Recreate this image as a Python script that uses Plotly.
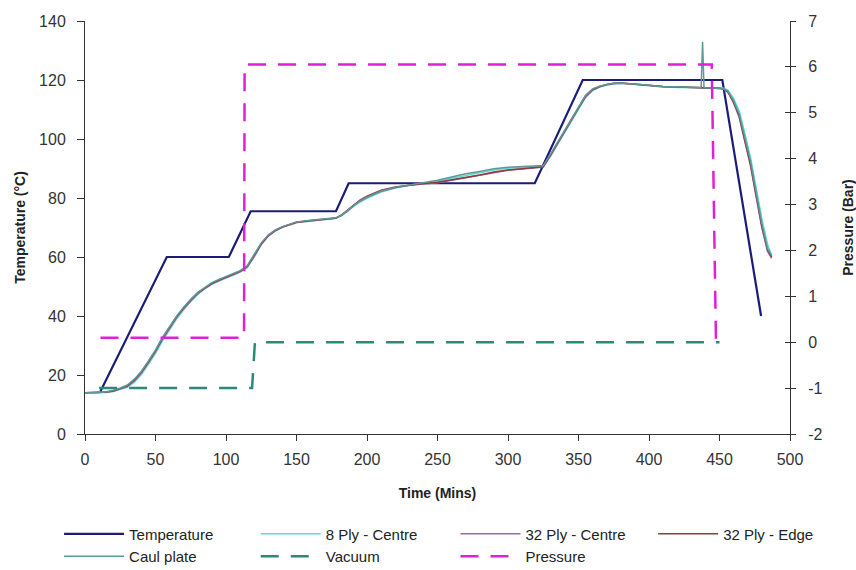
import plotly.graph_objects as go

# ---- data ----
temp_time = [11, 58, 102, 117.5, 178, 187, 319, 353, 452, 479.5]
temp_vals = [14.5, 60, 60, 75.5, 75.5, 85, 85, 120, 120, 40]

meas_time = [0, 10, 15, 20, 25, 30, 35, 40, 45, 50, 55, 60, 65, 70, 75, 80, 85, 90, 95, 100,
             105, 110, 115, 120, 125, 130, 135, 140, 150, 160, 170, 178, 182, 186, 190, 195, 200, 210, 220, 230,
             240, 250, 260, 270, 280, 290, 300, 310, 320, 325, 330, 335, 340, 345, 350, 355, 360, 365, 370, 375,
             380, 390, 400, 410, 420, 430, 440, 450, 453, 456, 460, 464, 468, 472, 476, 480, 484, 487]

ply8_centre = [14.0, 14.0, 14.1, 14.4, 15.0, 15.8, 17.6, 20.2, 23.6, 27.3, 31.6, 35.4, 39.0, 42.1, 44.9, 47.3, 49.2, 50.7, 51.9, 52.9,
               53.8, 54.9, 56.4, 60.0, 64.2, 67.1, 68.9, 70.1, 71.7, 72.3, 72.7, 73.1, 74.0, 75.4, 77.0, 78.6, 79.9, 82.0, 83.4, 84.3,
               85.0, 85.7, 86.7, 87.7, 88.6, 89.5, 90.1, 90.4, 90.5, 90.8, 94.0, 98.0, 102.2, 106.0, 110.2, 114.0, 116.4, 117.6, 118.3, 118.7,
               118.9, 118.5, 118.0, 117.6, 117.5, 117.5, 117.4, 117.3, 117.2, 116.6, 113.8, 109.5, 101.8, 93.8, 83.5, 73.0, 64.5, 60.5]

ply32_centre = [14.0, 14.0, 14.2, 14.5, 15.2, 16.1, 18.0, 20.7, 24.2, 27.9, 32.2, 35.9, 39.5, 42.5, 45.2, 47.6, 49.4, 50.9, 52.0, 53.0,
                53.9, 55.0, 56.6, 60.2, 64.3, 67.1, 68.9, 70.1, 71.7, 72.3, 72.7, 73.1, 74.1, 75.5, 77.2, 78.9, 80.2, 82.3, 83.5, 84.3,
                84.8, 85.2, 86.0, 86.9, 87.7, 88.7, 89.4, 89.8, 90.1, 90.5, 94.2, 98.3, 102.5, 106.3, 110.5, 114.3, 116.6, 117.7, 118.4, 118.8,
                118.9, 118.6, 118.1, 117.7, 117.6, 117.5, 117.3, 117.1, 116.9, 115.8, 112.2, 107.3, 99.0, 90.8, 80.3, 70.0, 62.0, 59.5]

ply32_edge = [14.0, 14.0, 14.2, 14.6, 15.4, 16.3, 18.3, 21.0, 24.5, 28.2, 32.5, 36.2, 39.8, 42.8, 45.5, 47.8, 49.6, 51.1, 52.2, 53.2,
              54.1, 55.2, 56.8, 60.5, 64.5, 67.3, 69.0, 70.2, 71.8, 72.4, 72.8, 73.2, 74.3, 75.8, 77.6, 79.3, 80.6, 82.6, 83.7, 84.4,
              84.9, 85.3, 86.1, 87.0, 87.8, 88.8, 89.5, 89.9, 90.2, 90.6, 94.5, 98.6, 102.8, 106.6, 110.8, 114.6, 116.8, 117.8, 118.5, 118.9,
              119.0, 118.7, 118.2, 117.8, 117.7, 117.6, 117.4, 117.2, 117.0, 116.0, 112.5, 107.8, 99.5, 91.5, 81.0, 70.5, 62.5, 60.0]

caul_time = [0, 10, 15, 20, 25, 30, 35, 40, 45, 50, 55, 60, 65, 70, 75, 80, 85, 90, 95, 100,
             105, 110, 115, 120, 125, 130, 135, 140, 150, 160, 170, 178, 182, 186, 190, 195, 200, 210, 220, 230,
             240, 250, 260, 270, 280, 290, 300, 310, 320, 325, 330, 335, 340, 345, 350, 355, 360, 365, 370, 375,
             380, 390, 400, 410, 420, 430, 437, 438, 439, 440, 450, 453, 456, 460, 464, 468, 472, 476, 480, 484, 487]
caul_plate = [14.0, 14.0, 14.3, 14.8, 15.6, 16.6, 18.6, 21.3, 24.8, 28.5, 32.8, 36.5, 40.0, 43.0, 45.7, 48.0, 49.8, 51.3, 52.4, 53.4,
              54.3, 55.4, 57.0, 60.8, 64.8, 67.5, 69.2, 70.3, 71.9, 72.5, 72.9, 73.3, 74.2, 75.6, 77.3, 79.0, 80.3, 82.4, 83.6, 84.4,
              85.2, 86.0, 87.1, 88.2, 89.0, 89.9, 90.4, 90.7, 90.8, 91.0, 94.8, 98.8, 103.0, 106.8, 111.0, 114.8, 117.0, 117.9, 118.5, 118.9,
              119.0, 118.7, 118.2, 117.8, 117.7, 117.6, 117.5, 133.0, 117.5, 117.4, 117.2, 117.0, 116.2, 113.0, 108.5, 100.5, 92.5, 82.0, 71.5, 63.0, 60.5]

vac_time = [10, 118.5, 120.5, 450]
vac_vals = [-1.0, -1.0, 0.0, 0.0]

pres_time = [11, 112.8, 113.2, 444.5, 447.5]
pres_vals = [0.1, 0.1, 6.05, 6.05, 0.0]

x_ticks = [0, 50, 100, 150, 200, 250, 300, 350, 400, 450, 500]
y_ticks = [0, 20, 40, 60, 80, 100, 120, 140]
y2_ticks = [-2, -1, 0, 1, 2, 3, 4, 5, 6, 7]
y2_labels = ["-2", "-1", "0", "1", "2", "3", "4", "5", "6", "7"]

FONT = "Liberation Sans Narrow, Liberation Sans, Arial, sans-serif"

fig = go.Figure()
fig.add_trace(go.Scatter(x=temp_time, y=temp_vals, name="Temperature", mode="lines", legend="legend",
                         line=dict(color="#1c1c78", width=2.2)))
fig.add_trace(go.Scatter(x=meas_time, y=ply8_centre, name="8 Ply - Centre", mode="lines", legend="legend2",
                         line=dict(color="#55e0d4", width=1.5)))
fig.add_trace(go.Scatter(x=meas_time, y=ply32_centre, name="32 Ply - Centre", mode="lines", legend="legend3",
                         line=dict(color="#a8649e", width=1.5)))
fig.add_trace(go.Scatter(x=meas_time, y=ply32_edge, name="32 Ply - Edge", mode="lines", legend="legend4",
                         line=dict(color="#8e3b3b", width=1.5)))
fig.add_trace(go.Scatter(x=caul_time, y=caul_plate, name="Caul plate", mode="lines", legend="legend",
                         line=dict(color="#5c9a98", width=1.5)))
fig.add_trace(go.Scatter(x=vac_time, y=vac_vals, name="Vacuum", mode="lines", yaxis="y2", legend="legend2",
                         line=dict(color="#2a8a7a", width=2.5, dash="18px,12px")))
fig.add_trace(go.Scatter(x=pres_time, y=pres_vals, name="Pressure", mode="lines", yaxis="y2", legend="legend3",
                         line=dict(color="#e020d8", width=2.5, dash="18px,12px")))
# invisible trace to show the inward half of the right-axis ticks
fig.add_trace(go.Scatter(x=[None], y=[None], yaxis="y3", showlegend=False, hoverinfo="skip"))

TICKFONT = dict(family=FONT, size=16, color="#333333")
TITLEFONT = dict(family=FONT, size=14, color="#222222")
LEGFONT = dict(family=FONT, size=15, color="#222222")
axis_common = dict(showgrid=False, zeroline=False, showline=True, linecolor="#333333", linewidth=1,
                   ticks="outside", tickcolor="#333333", tickfont=TICKFONT, automargin=False)


def legend_col(xpos):
    return dict(orientation="v", xref="paper", yref="container", x=xpos, xanchor="left",
                y=0.092, yanchor="top", itemwidth=60, tracegroupgap=0, font=LEGFONT,
                bgcolor="rgba(0,0,0,0)")


fig.update_layout(
    width=856, height=570,
    margin=dict(l=85, r=66, t=21, b=136),
    paper_bgcolor="white", plot_bgcolor="white",
    font=dict(family=FONT, color="#222222"),
    xaxis=dict(range=[0, 500], tickvals=x_ticks, ticklen=6, ticklabelstandoff=5, **axis_common,
               title=dict(text="<b>Time (Mins)</b>", font=TITLEFONT, standoff=20)),
    yaxis=dict(range=[0, 140], tickvals=y_ticks, ticklen=7, ticklabelstandoff=8, **axis_common,
               title=dict(text="<b>Temperature (°C)</b>", font=TITLEFONT, standoff=10)),
    yaxis2=dict(range=[-2, 7], tickvals=y2_ticks, ticktext=y2_labels, overlaying="y", side="right", anchor="x",
                ticklen=5, ticklabelstandoff=9, **axis_common,
                title=dict(text="<b>Pressure (Bar)</b>", font=TITLEFONT, standoff=22)),
    yaxis3=dict(range=[-2, 7], tickvals=y2_ticks, overlaying="y", side="right", anchor="x",
                showgrid=False, zeroline=False, showline=False, ticks="inside", ticklen=5,
                tickcolor="#333333", showticklabels=False, automargin=False),
    showlegend=True,
    legend=legend_col(-0.0368),
    legend2=legend_col(0.2422),
    legend3=legend_col(0.5255),
    legend4=legend_col(0.8059),
)

fig.write_html("out.html")
